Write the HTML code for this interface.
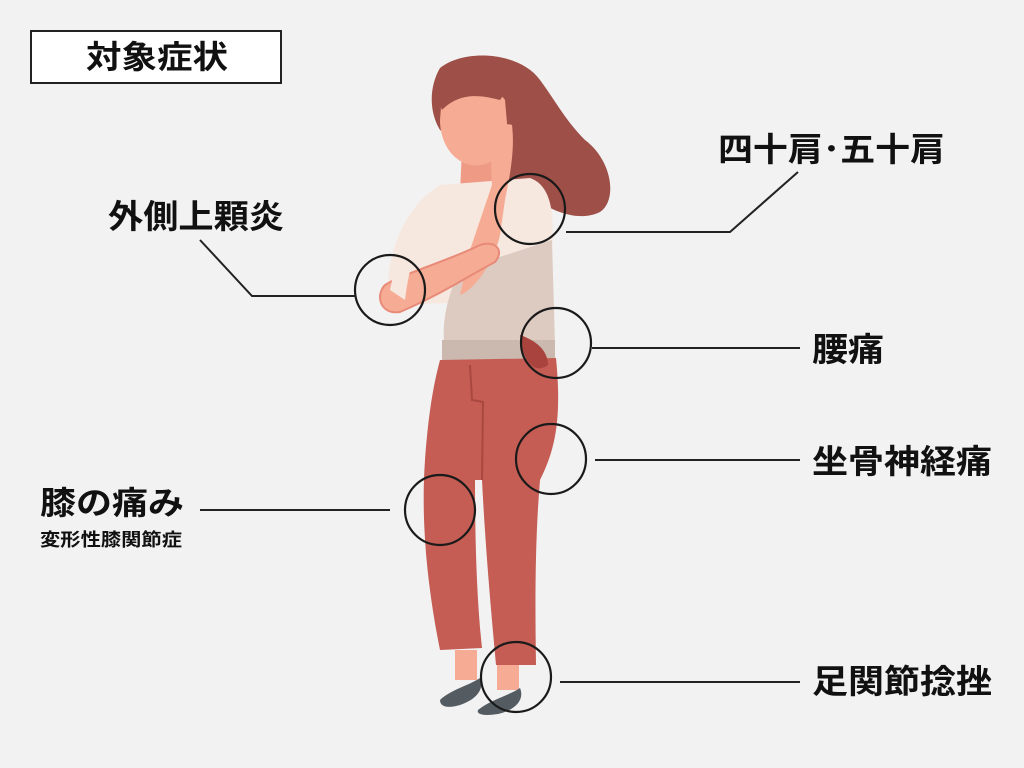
<!DOCTYPE html>
<html><head><meta charset="utf-8"><style>
html,body{margin:0;padding:0;background:#f2f2f2;}
svg{display:block}
text{font-family:"Liberation Sans","Noto Sans CJK JP",sans-serif;font-weight:bold;fill:#111}
</style></head><body>
<svg width="1024" height="768" viewBox="0 0 1024 768" xmlns="http://www.w3.org/2000/svg">
<rect width="1024" height="768" fill="#f2f2f2"/>
<rect x="31" y="31" width="250" height="52" fill="#fff" stroke="#222" stroke-width="2"/>
<text x="86" y="68" font-size="32" textLength="142" lengthAdjust="spacingAndGlyphs">対象症状</text>

<!-- hair -->
<path d="M440 68 C465 48 520 52 540 80 C555 100 565 120 585 140 C612 160 618 200 600 212 C580 222 555 212 540 202 L500 182 L440 130 C428 110 430 85 440 68 Z" fill="#9e5048"/>
<!-- neck -->
<path d="M462 150 L492 150 L495 190 L460 192 Z" fill="#ef9a85"/>
<!-- face -->
<path d="M442 95 C455 80 490 78 505 100 L508 135 C505 155 490 168 470 165 C450 160 440 140 440 120 Z" fill="#f6ac94"/>
<path d="M438 98 C450 72 490 68 506 92 L500 100 C480 95 460 92 442 110 Z" fill="#9e5048"/>
<!-- sweater top -->
<path d="M440 185 L530 178 C550 185 555 210 552 250 L550 300 L388 305 C385 260 400 210 440 185 Z" fill="#f6e7df"/>
<!-- lower sweater -->
<path d="M460 270 L552 240 L555 345 L445 350 C440 320 450 290 460 270 Z" fill="#ddcbc2"/>
<rect x="442" y="340" width="113" height="20" fill="#cbb9b0"/>
<!-- pants -->
<path d="M440 360 L556 358 C562 420 555 450 540 480 C535 540 535 600 536 665 L496 665 C490 600 485 540 482 480 L475 480 C475 560 478 610 482 648 L440 650 C430 600 420 530 425 460 C428 420 432 390 440 360 Z" fill="#c55d54"/>
<path d="M470 365 L472 400 L483 402 L482 480" fill="none" stroke="#a84840" stroke-width="2"/>
<path d="M520 335 C535 340 548 350 548 365 C535 375 522 362 520 335 Z" fill="#a8443d"/>
<!-- ankles -->
<rect x="455" y="650" width="22" height="30" fill="#f6ac94"/>
<rect x="497" y="665" width="22" height="25" fill="#f6ac94"/>
<!-- shoes -->
<path d="M440 700 C450 690 470 685 480 678 C485 690 475 700 460 705 C450 708 440 708 440 700 Z" fill="#545c62"/>
<path d="M478 710 C490 700 510 695 520 688 C525 700 515 710 498 714 C485 716 476 715 478 710 Z" fill="#545c62"/>
<!-- arms -->
<path d="M492 185 C488 140 500 120 512 125 C515 150 510 175 505 200 L500 235 C495 260 475 290 460 295 L470 250 Z" fill="#f6ac94"/>
<path d="M385 285 C400 275 450 260 480 245 C495 240 505 250 495 262 C470 275 440 295 400 312 C380 315 375 295 385 285 Z" fill="#f6ac94" stroke="#e88a78" stroke-width="2"/>
<path d="M440 195 C420 200 400 240 390 290 L405 300 C410 260 420 230 440 215 Z" fill="#f6e7df"/>

<!-- circles -->
<g fill="none" stroke="#1a1a1a" stroke-width="2.2">
<circle cx="530" cy="209" r="35"/>
<circle cx="390" cy="290" r="35"/>
<circle cx="556" cy="343" r="35"/>
<circle cx="551" cy="459" r="35"/>
<circle cx="440" cy="510" r="35"/>
<circle cx="516" cy="677" r="35"/>
</g>
<!-- lines -->
<g fill="none" stroke="#222" stroke-width="2">
<polyline points="566,232 730,232 798,172"/>
<polyline points="200,240 252,296 356,296"/>
<line x1="592" y1="348" x2="800" y2="348"/>
<line x1="595" y1="460" x2="800" y2="460"/>
<line x1="200" y1="510" x2="390" y2="510"/>
<line x1="560" y1="682" x2="800" y2="682"/>
</g>
<!-- labels -->
<text x="718" y="161" font-size="33" textLength="227" lengthAdjust="spacingAndGlyphs">四十肩･五十肩</text>
<text x="108" y="228" font-size="33" textLength="176" lengthAdjust="spacingAndGlyphs">外側上顆炎</text>
<text x="812" y="361" font-size="33" textLength="72" lengthAdjust="spacingAndGlyphs">腰痛</text>
<text x="812" y="473" font-size="33" textLength="180" lengthAdjust="spacingAndGlyphs">坐骨神経痛</text>
<text x="40" y="514" font-size="32" textLength="144" lengthAdjust="spacingAndGlyphs">膝の痛み</text>
<text x="40" y="546" font-size="18" textLength="142" lengthAdjust="spacingAndGlyphs">変形性膝関節症</text>
<text x="812" y="693" font-size="33" textLength="180" lengthAdjust="spacingAndGlyphs">足関節捻挫</text>
</svg>
</body></html>
